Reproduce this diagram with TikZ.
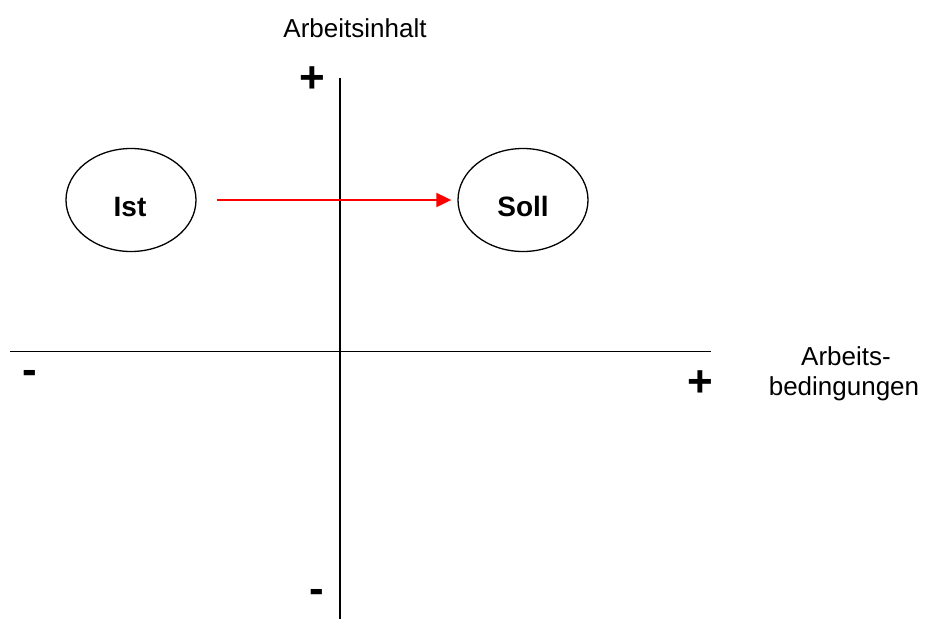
\documentclass[tikz,border=0pt]{standalone}
\usepackage{fontspec}
\setmainfont{Liberation Sans}
\usetikzlibrary{arrows.meta,shapes.geometric}
\begin{document}
\begin{tikzpicture}[x=1pt,y=-1pt,
  axis/.style={line width=1.4pt,black},
  state/.style={draw,ellipse,line width=1.3pt,minimum width=130pt,minimum height=103pt,inner sep=0pt},
  statetext/.style={font=\fontsize{28}{32}\selectfont\bfseries},
  sign/.style={inner sep=0pt,font=\fontsize{44}{48}\selectfont\bfseries},
  label/.style={inner sep=0pt,font=\fontsize{26}{30}\selectfont,align=center},
  move/.style={red,line width=2pt,-{Triangle[length=15pt,width=14pt]}}]
\useasboundingbox (0,0) rectangle (925,619);
% axes
\coordinate (ytop) at (340,78);
\coordinate (ybot) at (340,619);
\coordinate (xleft) at (10,351.5);
\coordinate (xright) at (711,351.5);
\draw[axis] (ytop) -- (ybot);
\draw[axis] (xleft) -- (xright);
% axis signs
\node[sign] (yplus) at (312,80) {+};
\node[sign] (yminus) at (317,596) {-};
\node[sign] (xminus) at (30,377) {-};
\node[sign] (xplus) at (700,384) {+};
% axis titles
\node[label,anchor=base] (ylabel) at (355,37) {Arbeitsinhalt};
\node[label,anchor=base] (xlabel1) at (846,365) {Arbeits-};
\node[label,anchor=base] (xlabel2) at (844,395) {bedingungen};
% states
\node[state] (ist) at (131,200) {};
\node[state] (soll) at (523,200) {};
\node[statetext,anchor=base] (isttext) at (130,216) {Ist};
\node[statetext,anchor=base] (solltext) at (523,216) {Soll};
% transition
\draw[move] ([xshift=20pt]ist.east) -- ([xshift=-6pt]soll.west);
\end{tikzpicture}
\end{document}
